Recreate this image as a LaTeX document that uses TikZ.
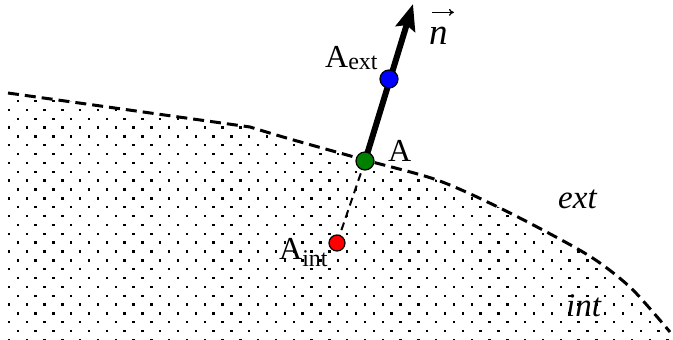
\documentclass[tikz,border=0pt]{standalone}
\usepackage{fontspec}
\setmainfont{Liberation Serif}
\usetikzlibrary{arrows.meta}
\definecolor{ptgreen}{RGB}{0,128,0}
\pgfdeclarelayer{bg}
\pgfsetlayers{bg,main}
\tikzset{
  ptdot/.style={circle, draw=black, line width=1.2pt, minimum size=18pt, inner sep=0pt},
  bnd/.style={line width=3pt, dash pattern=on 11pt off 6pt},
  lbl/.style={font=\fontsize{32}{32}\selectfont, inner sep=0pt, anchor=base west},
  reg/.style={font=\fontsize{33}{33}\selectfont\itshape, inner sep=0pt, anchor=base west},
}
\newcommand{\lowsub}[2]{\raisebox{-#1}{\fontsize{24}{24}\selectfont #2}}
\begin{document}
\begin{tikzpicture}[x=1pt,y=-1pt]
\useasboundingbox (0,0) rectangle (673,340);
% points
\node[ptdot, fill=ptgreen] (A) at (365,161) {};
\node[ptdot, fill=blue] (Aext) at (389,79) {};
\node[ptdot, fill=red, minimum size=16pt] (Aint) at (337,243) {};
\coordinate (tip) at (413,4);
% labels
\node[lbl] (lA) at (388,161) {A};
\node[lbl] (lAext) at (325,67) {A\lowsub{2pt}{ext}};
\node[lbl] (lAint) at (279,259) {A\lowsub{7pt}{int}};
\node[font=\fontsize{37}{37}\selectfont\itshape, inner sep=0pt, anchor=base west] (n) at (429,44) {n};
\node[reg] (ext) at (558,208) {ext};
\node[reg] (int) at (566,316) {int};
\begin{pgfonlayer}{bg}
\begin{scope}
\clip (8,93) -- plot[smooth,tension=0.5] coordinates {(250,127) (290,139) (365,160) (437,180) (500,208) (567,243) (600,263) (633,290) (670,332)} -- (673,340) -- (8,340) -- cycle;
\foreach \j in {0,...,27} {
  \pgfmathsetmacro{\yy}{101+8.85*\j}
  \pgfmathsetmacro{\xo}{mod(\j,2)*8.9}
  \foreach \k in {0,...,38} {
    \fill ({\xo+17.8*\k-1.2},{\yy-1.2}) rectangle +(2.4,2.4);
  }
}
\end{scope}
\draw[bnd] (8,93) -- plot[smooth,tension=0.5] coordinates {(250,127) (290,139) (365,160) (437,180) (500,208) (567,243) (600,263) (633,290) (670,332)};
\draw[line width=2pt, dash pattern=on 8pt off 5pt] (A.center) -- (Aint.center);
\draw[line width=6pt, -{Stealth[length=26pt,width=20pt,inset=4pt]}] (A.center) -- (tip);
\draw[line width=1.3pt, -{To[length=5pt,width=7pt]}] ([xshift=3pt,yshift=14pt]n.north west) -- ([xshift=6pt,yshift=14pt]n.north east);
\end{pgfonlayer}
\end{tikzpicture}
\end{document}
